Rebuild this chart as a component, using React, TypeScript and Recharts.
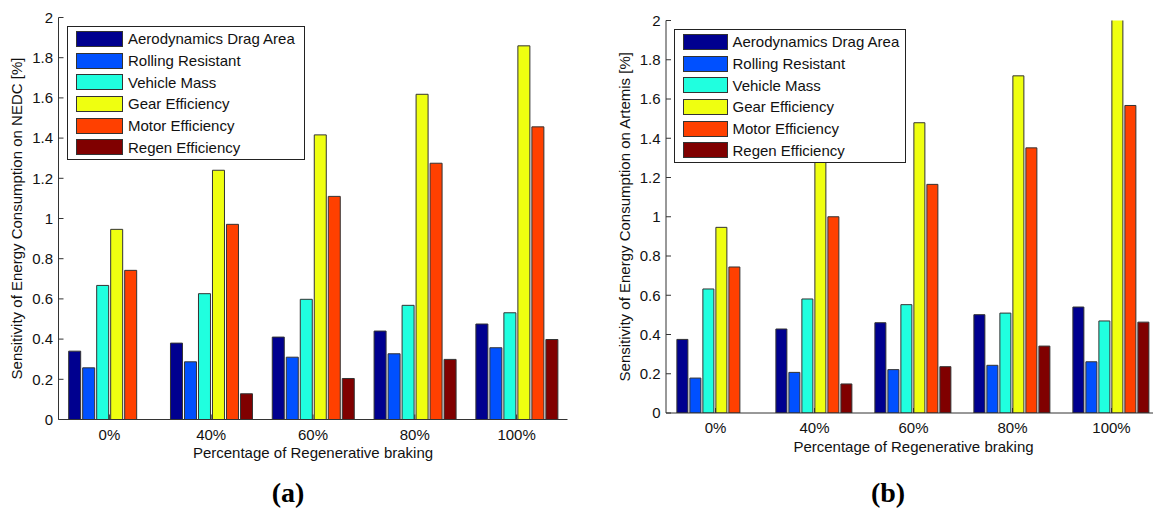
import { BarChart, Bar, XAxis, YAxis, Legend } from 'recharts';

const categories = ['0%', '40%', '60%', '80%', '100%'];
const seriesNames = [
  'Aerodynamics Drag Area',
  'Rolling Resistant',
  'Vehicle Mass',
  'Gear Efficiency',
  'Motor Efficiency',
  'Regen Efficiency',
];
const seriesColors = ['#00008f', '#0050ff', '#20ffdf', '#efff10', '#ff4000', '#800000'];
const yTicks = [0, 0.2, 0.4, 0.6, 0.8, 1, 1.2, 1.4, 1.6, 1.8, 2];

// (a) NEDC
const nedcAero = [0.34, 0.38, 0.41, 0.44, 0.475];
const nedcRolling = [0.257, 0.287, 0.31, 0.327, 0.357];
const nedcMass = [0.667, 0.626, 0.598, 0.568, 0.531];
const nedcGear = [0.946, 1.24, 1.416, 1.618, 1.859];
const nedcMotor = [0.742, 0.971, 1.11, 1.275, 1.456];
const nedcRegen = [0, 0.128, 0.204, 0.299, 0.398];

// (b) Artemis
const artAero = [0.375, 0.428, 0.46, 0.501, 0.54];
const artRolling = [0.178, 0.207, 0.221, 0.243, 0.261];
const artMass = [0.632, 0.581, 0.552, 0.509, 0.469];
const artGear = [0.946, 1.29, 1.479, 1.718, 2.05];
const artMotor = [0.744, 1.0, 1.165, 1.351, 1.567];
const artRegen = [0, 0.148, 0.236, 0.341, 0.463];

const FONT = '"Liberation Sans", Arial, sans-serif';

const toRows = (series: number[][]) =>
  categories.map((cat, i) => {
    const row: any = { cat };
    series.forEach((s, k) => (row['s' + k] = s[i]));
    return row;
  });

const nedcRows = toRows([nedcAero, nedcRolling, nedcMass, nedcGear, nedcMotor, nedcRegen]);
const artRows = toRows([artAero, artRolling, artMass, artGear, artMotor, artRegen]);

const LegendBox = ({ width, swatch }: { width: number; swatch: number }) => (
  <div
    style={{
      width,
      boxSizing: 'border-box',
      border: '1.5px solid #222',
      background: '#fff',
      padding: '1px 0 1px 8px',
      fontFamily: FONT,
      fontSize: 15,
      color: '#111',
    }}
  >
    {seriesNames.map((n, i) => (
      <div key={n} style={{ display: 'flex', alignItems: 'center', height: 21.7 }}>
        <span
          style={{
            display: 'inline-block',
            boxSizing: 'border-box',
            width: swatch,
            height: 16,
            background: seriesColors[i],
            border: '1px solid #333',
            marginRight: 5,
          }}
        />
        <span style={{ whiteSpace: 'nowrap' }}>{n}</span>
      </div>
    ))}
  </div>
);

type PanelProps = {
  rows: any[];
  yLabel: string;
  width: number;
  height: number;
  top: number;
  right: number;
  yWidth: number;
  yLabelX: number;
  catGap: string;
  legendLeft: number;
  legendTop: number;
  legendWidth: number;
  swatch: number;
};

const Panel = (p: PanelProps) => (
  <BarChart
    width={p.width}
    height={p.height}
    data={p.rows}
    margin={{ top: p.top, right: p.right, left: 0, bottom: 0 }}
    barGap={2}
    barCategoryGap={p.catGap}
    style={{ fontFamily: FONT }}
  >
    <XAxis
      dataKey="cat"
      height={45.5}
      tickSize={-5}
      tickMargin={14.5}
      stroke="#333"
      tick={{ fill: '#111', fontSize: 15 }}
      label={{ value: 'Percentage of Regenerative braking', position: 'insideBottom', offset: 7, fill: '#111', fontSize: 15 }}
    />
    <XAxis xAxisId="top" dataKey="cat" orientation="top" height={0} tickSize={-5} tick={false} stroke="#333" />
    <YAxis
      domain={[0, 2]}
      ticks={yTicks}
      allowDataOverflow
      width={p.yWidth}
      tickSize={-5}
      tickMargin={10.5}
      stroke="#333"
      tick={{ fill: '#111', fontSize: 15 }}
      label={{
        value: p.yLabel,
        angle: -90,
        position: 'insideLeft',
        offset: p.yLabelX,
        fill: '#111',
        fontSize: 15,
        style: { textAnchor: 'middle' },
      }}
    />
    <YAxis yAxisId="right" orientation="right" domain={[0, 2]} ticks={yTicks} width={0} tickSize={-5} tick={false} stroke="#333" />
    <Legend
      layout="vertical"
      align="center"
      verticalAlign="middle"
      wrapperStyle={{ left: p.legendLeft, top: p.legendTop, width: p.legendWidth }}
      content={() => <LegendBox width={p.legendWidth} swatch={p.swatch} />}
    />
    {seriesNames.map((n, k) => (
      <Bar
        key={n}
        dataKey={'s' + k}
        name={n}
        fill={seriesColors[k]}
        stroke="#333"
        strokeWidth={1}
        isAnimationActive={false}
      />
    ))}
  </BarChart>
);

const caption = {
  position: 'absolute',
  top: 477,
  width: 60,
  textAlign: 'center',
  fontFamily: '"Liberation Serif", "Times New Roman", serif',
  fontWeight: 'bold',
  fontSize: 28,
  lineHeight: '32px',
} as const;

export default function App() {
  return (
    <div style={{ position: 'absolute', left: 0, top: 0, width: 1153, height: 508, overflow: 'hidden', background: '#fff' }}>
      <div style={{ position: 'absolute', left: 0, top: 0 }}>
        <Panel
          rows={nedcRows}
          yLabel="Sensitivity of Energy Consumption on NEDC [%]"
          width={580}
          height={465}
          top={17.5}
          right={12.5}
          yWidth={58.5}
          yLabelX={16.5}
          catGap="10%"
          legendLeft={67}
          legendTop={26}
          legendWidth={238}
          swatch={47}
        />
      </div>
      <div style={{ position: 'absolute', left: 580, top: 0 }}>
        <Panel
          rows={artRows}
          yLabel="Sensitivity of Energy Consumption on Artemis [%]"
          width={593}
          height={458.5}
          top={20.5}
          right={12}
          yWidth={86}
          yLabelX={44.5}
          catGap="11%"
          legendLeft={93.5}
          legendTop={29}
          legendWidth={232}
          swatch={45}
        />
      </div>
      <div style={{ ...caption, left: 258 }}>(a)</div>
      <div style={{ ...caption, left: 858 }}>(b)</div>
    </div>
  );
}
